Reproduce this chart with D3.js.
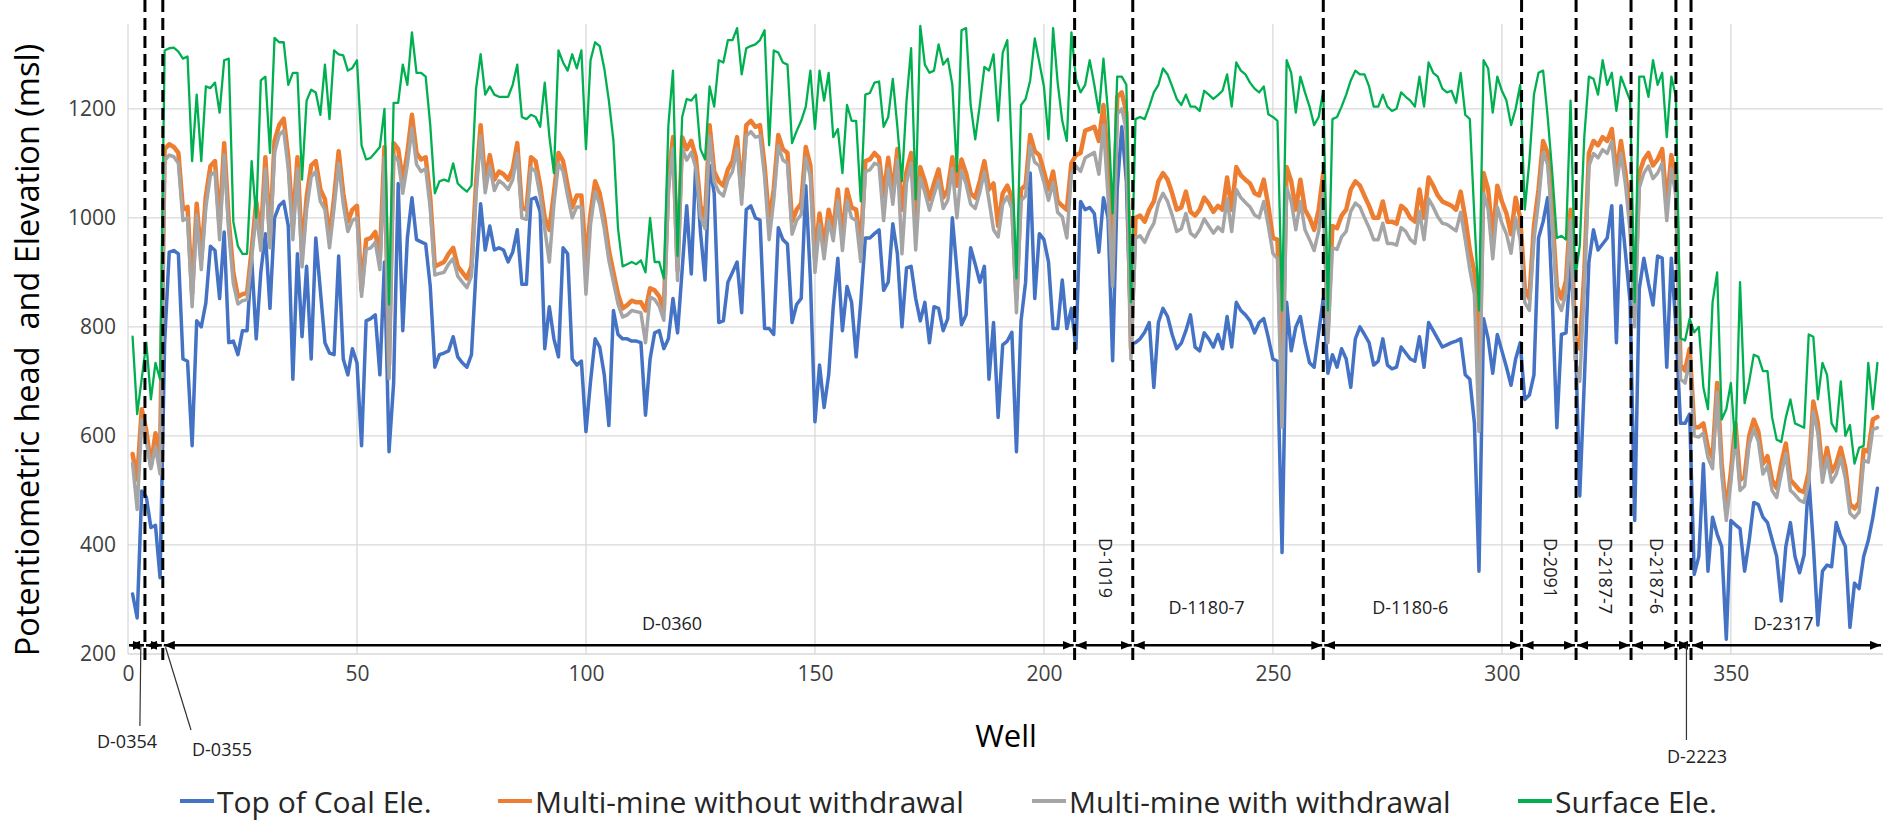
<!DOCTYPE html>
<html>
<head>
<meta charset="utf-8">
<script src="https://cdn.jsdelivr.net/npm/d3@7"></script>
<style>
  body { margin: 0; background: #fff; }
  svg { display: block; font-family: "Open Sans", "Noto Sans", sans-serif; }
  text { white-space: pre; }
</style>
</head>
<body>
<script>
// values per well (well 1 .. 382)
var topCoal = [
  310,266,499,488,432,436,340,771,937,940,
  934,741,737,582,811,800,844,948,940,852,
  974,771,774,749,793,793,926,778,900,971,
  834,1000,1022,1030,985,704,934,782,911,741,
  963,867,771,752,749,930,741,712,760,734,
  582,811,815,822,712,919,571,697,1063,793,
  963,1037,960,956,952,874,726,749,752,756,
  782,745,734,726,749,904,1026,941,985,941,
  945,941,919,937,978,878,878,1034,1037,1011,
  760,837,778,745,945,934,741,730,737,608,
  700,778,763,712,619,830,786,778,778,774,
  774,771,638,741,789,793,760,778,852,789,
  904,1022,897,1104,974,886,1096,1045,808,811,
  882,900,919,826,1015,1022,1000,996,797,797,
  786,982,960,952,808,841,852,1059,889,626,
  730,652,712,837,926,793,874,845,745,845,
  963,963,971,978,867,882,989,934,800,908,
  911,852,811,845,771,837,834,793,815,1000,
  904,804,822,945,915,882,911,704,808,634,
  767,774,790,571,811,882,1082,852,971,960,
  919,797,797,886,797,834,760,1030,1015,1019,
  1008,937,1037,1000,738,1052,1167,1067,771,771,
  778,790,808,689,808,834,819,786,760,770,
  793,822,763,756,789,778,763,786,760,819,
  763,845,830,822,811,789,808,815,780,741,
  737,386,845,756,800,819,771,734,726,789,
  852,715,749,726,760,741,689,778,800,786,
  771,730,737,778,730,723,726,763,752,741,
  737,782,726,808,793,778,763,767,771,774,
  778,712,704,623,352,815,778,715,786,756,
  726,693,741,771,667,675,712,963,993,1037,
  852,615,786,789,919,800,490,700,919,978,
  941,952,963,1022,771,1022,934,845,445,870,
  926,880,840,930,926,726,926,800,623,623,640,
  346,379,549,352,451,420,397,227,445,437,
  430,352,408,478,474,451,441,410,379,297,
  397,441,379,349,382,526,401,253,352,363,
  360,441,415,397,249,330,320,379,408,450,
  504
];

var noWithdrawal = [
  567,520,649,610,545,605,560,1126,1135,1130,
  1119,1015,1020,860,1026,925,1040,1095,1104,985,
  1137,995,900,855,860,862,941,1030,963,1111,
  963,1141,1170,1182,1111,985,1111,934,1037,1096,
  1104,1052,1034,963,1037,1122,1045,993,1015,1022,
  867,960,963,974,926,1130,730,1137,1126,1067,
  1119,1189,1119,1107,1111,1037,911,915,919,934,
  945,911,900,889,911,1063,1170,1067,1115,1070,
  1085,1080,1070,1089,1137,1019,1015,1111,1104,1059,
  1000,978,1045,1119,1104,1059,1019,1041,1041,919,
  1008,1067,1045,1000,941,900,860,834,840,848,
  845,845,830,871,867,856,830,1070,1148,904,
  1148,1126,1141,1111,1022,1000,1170,1085,1067,1059,
  1089,1104,1148,1045,1170,1178,1167,1170,1096,993,
  1052,1152,1126,1119,993,1015,1026,1130,1096,926,
  1008,948,1015,978,1052,963,1052,1019,1015,945,
  1104,1107,1119,1110,1040,1110,1045,1126,1015,1085,
  1119,1000,1093,1067,1034,1063,1089,1037,1052,1111,
  1059,1107,1082,1045,1037,1067,1104,1052,1063,985,
  1045,1059,1037,852,1052,1060,1152,1122,1115,1085,
  1052,1085,1030,1022,1015,1100,1115,1119,1160,1163,
  1167,1141,1207,1100,900,1222,1230,1193,760,1000,
  1004,993,1015,1030,1067,1082,1070,1045,1015,1019,
  1048,1011,1004,1015,1037,1026,1011,1022,1015,1074,
  1015,1093,1078,1070,1063,1045,1041,1070,1022,963,
  960,700,1093,1067,1015,1070,1015,1000,978,1015,
  1082,800,985,981,1004,1015,1052,1067,1059,1040,
  1022,1000,1000,1030,993,993,989,1022,1015,1000,
  993,1052,1000,1074,1059,1041,1030,1026,1022,1015,
  1048,1000,941,900,700,1082,1052,963,1059,1030,
  1008,970,1037,1000,870,852,985,1052,1141,1119,
  1008,874,852,885,1015,780,760,900,1119,1141,
  1133,1148,1141,1163,1082,1141,1082,1000,845,1082,
  1107,1119,1096,1107,1126,1022,1115,1067,730,720,760,
  616,616,623,578,560,697,549,460,534,623,
  519,526,600,630,608,549,563,519,504,549,
  586,519,510,500,497,534,663,623,534,578,
  534,549,578,541,475,467,478,575,571,630,
  635
];

var withWithdrawal = [
  550,465,630,590,540,580,530,1105,1115,1112,
  1100,995,1000,837,1005,905,1020,1078,1085,960,
  1115,975,880,842,848,850,925,1010,940,1090,
  945,1120,1152,1160,1090,960,1090,910,1015,1075,
  1085,1030,1015,945,1018,1100,1025,975,995,1000,
  856,942,945,955,905,1110,705,1115,1105,1045,
  1098,1165,1098,1085,1090,1018,895,898,900,915,
  925,893,882,872,893,1042,1150,1046,1095,1050,
  1068,1062,1052,1070,1118,1000,997,1092,1085,1040,
  980,919,1025,1100,1085,1040,1000,1020,1020,860,
  988,1048,1025,980,922,882,842,818,822,830,
  828,826,771,855,850,838,812,1050,1128,885,
  1128,1106,1120,1092,1002,980,1150,1066,1048,1040,
  1070,1085,1128,1025,1150,1158,1148,1150,1076,960,
  1032,1132,1106,1100,970,995,1006,1110,1076,900,
  988,925,995,958,1032,940,1032,1000,995,920,
  1085,1088,1100,1096,995,1090,1025,1106,934,1065,
  1100,941,1073,1047,1014,1043,1069,1017,1032,1091,
  1000,1087,1062,1025,1017,1047,1084,1032,978,965,
  1025,1039,1017,826,1032,1040,1132,1102,1095,1065,
  1032,1065,1010,1002,963,1080,1095,1085,1110,1115,
  1120,1080,1170,1040,874,1190,1200,1160,740,963,
  967,955,975,990,1027,1045,1030,1005,975,980,
  1008,972,965,978,998,985,972,983,975,1035,
  975,1052,1037,1028,1020,1005,1000,1030,985,935,
  925,616,1055,1030,978,1030,978,960,940,976,
  1045,771,945,942,965,975,1012,1027,1020,1000,
  982,960,960,990,953,953,950,982,975,960,
  953,1012,960,1035,1020,1002,990,988,982,976,
  1010,960,905,860,608,1045,1015,925,1020,990,
  970,935,1000,960,845,830,960,1030,1120,1098,
  985,850,830,862,995,740,700,870,1095,1118,
  1110,1125,1118,1140,1060,1118,1060,975,800,1055,
  1082,1095,1072,1082,1100,995,1090,1040,704,697,740,
  600,598,605,560,540,680,530,445,515,605,
  500,508,585,612,590,530,545,500,487,530,
  568,500,492,482,478,515,645,605,515,560,
  515,530,560,522,458,450,460,555,552,612,
  615
];

var surface = [
  782,640,705,771,667,734,704,1307,1311,1312,
  1305,1292,1296,1104,1226,1104,1241,1238,1248,1193,
  1289,1292,993,948,934,934,1104,1000,1252,1259,
  1119,1330,1322,1322,1244,1266,1266,1070,1215,1235,
  1230,1189,1281,1181,1307,1300,1298,1270,1275,1289,
  1133,1107,1110,1120,1130,1200,841,1211,1211,1281,
  1244,1340,1266,1266,1259,1170,1045,1067,1070,1067,
  1100,1063,1055,1048,1059,1237,1300,1226,1241,1226,
  1222,1222,1222,1244,1281,1185,1181,1189,1185,1167,
  1248,1150,1082,1307,1285,1270,1300,1274,1307,1126,
  1289,1322,1315,1274,1215,1141,980,911,915,919,
  915,922,900,1000,919,919,889,1170,1270,930,
  1185,1218,1215,1226,1126,1107,1241,1204,1289,1285,
  1326,1326,1348,1263,1311,1315,1318,1326,1344,1133,
  1307,1303,1285,1281,1137,1159,1178,1204,1270,1163,
  1270,1215,1266,1148,1163,1082,1207,1178,1178,1030,
  1226,1229,1248,1250,1167,1185,1255,1167,1067,1215,
  1311,1034,1352,1281,1266,1270,1318,1281,1292,1244,
  1085,1344,1348,1207,1144,1207,1277,1270,1300,1178,
  1303,1326,1119,889,1207,1218,1252,1329,1285,1241,
  1144,1348,1248,1178,1141,1340,1255,1230,1244,1289,
  1244,1193,1292,1193,1008,1259,1259,1244,845,1181,
  1185,1181,1204,1230,1244,1274,1263,1241,1218,1207,
  1226,1204,1204,1196,1233,1226,1218,1225,1233,1263,
  1204,1285,1270,1263,1248,1237,1230,1241,1190,1185,
  1178,830,1289,1266,1193,1259,1230,1204,1170,1185,
  1233,830,1181,1185,1204,1226,1252,1270,1263,1263,
  1241,1204,1204,1226,1204,1196,1200,1230,1222,1215,
  1204,1259,1204,1285,1266,1259,1237,1230,1233,1211,
  1266,1189,1181,1000,830,1289,1274,1193,1259,1233,
  1215,1170,1200,1244,1015,1104,1226,1266,1270,1185,
  1082,963,967,960,1215,889,948,1150,1259,1255,
  1226,1289,1244,1266,1196,1259,1237,1215,845,1259,
  1259,1222,1289,1244,1266,1148,1259,1222,779,775,815,
  790,800,689,649,845,900,630,649,697,578,
  882,660,700,749,745,719,719,634,593,589,
  634,667,623,619,615,786,782,667,734,712,
  623,608,700,600,620,549,578,582,734,649,
  734
];

var seriesNames = ["Top of Coal Ele.", "Multi-mine without withdrawal", "Multi-mine with withdrawal", "Surface Ele."];
var seriesColors = ["#4472C4", "#ED7D31", "#A5A5A5", "#00B050"];
var seriesWidths = [3.5, 4.5, 3.5, 2.3];

var wellTicks = [0, 50, 100, 150, 200, 250, 300, 350];
var elevTicks = [200, 400, 600, 800, 1000, 1200];

// well numbers where the dashed separators sit
var boundaries = [3.7, 7.6, 206.7, 219.4, 261, 304.3, 316.2, 328.2, 338, 341.3];
var segNames = ["D-0354", "D-0355", "D-0360", "D-1019", "D-1180-7", "D-1180-6",
                "D-2091", "D-2187-7", "D-2187-6", "D-2223", "D-2317"];

var W = 1883, H = 829;
var x = d3.scaleLinear().domain([0, 383]).range([128, 1882]);
var y = d3.scaleLinear().domain([200, 1350]).range([654, 27]);

var svg = d3.select("body").append("svg")
    .attr("width", W).attr("height", H)
    .attr("viewBox", [0, 0, W, H]);

svg.append("rect").attr("width", W).attr("height", H).attr("fill", "#fff");

// grid
svg.append("g").selectAll("line").data(elevTicks).join("line")
    .attr("x1", x(0)).attr("x2", W)
    .attr("y1", d => y(d)).attr("y2", d => y(d))
    .attr("stroke", "#d9d9d9").attr("stroke-width", 1.3);
svg.append("g").selectAll("line").data(wellTicks).join("line")
    .attr("x1", d => x(d)).attr("x2", d => x(d))
    .attr("y1", y(1350) - 3).attr("y2", y(200))
    .attr("stroke", "#d9d9d9").attr("stroke-width", 1.3);

// y axis labels
svg.append("g")
    .attr("transform", `translate(${x(0)},0)`)
    .call(d3.axisLeft(y).tickValues(elevTicks).tickFormat(d3.format("d")).tickSize(0).tickPadding(12))
    .call(g => g.select(".domain").remove())
    .call(g => g.selectAll("text")
        .attr("font-family", '"Open Sans", sans-serif')
        .attr("font-size", 21).attr("fill", "#404040"));

// x axis labels
svg.append("g")
    .attr("transform", `translate(0,${y(200)})`)
    .call(d3.axisBottom(x).tickValues(wellTicks).tickFormat(d3.format("d")).tickSize(0).tickPadding(12))
    .call(g => g.select(".domain").remove())
    .call(g => g.selectAll("text")
        .attr("font-family", '"Open Sans", sans-serif')
        .attr("font-size", 21).attr("fill", "#404040"));

// series
var allSeries = [topCoal, noWithdrawal, withWithdrawal, surface];
var line = d3.line()
    .x((d, i) => x(i + 1))
    .y(d => y(d));

allSeries.forEach(function(s, k) {
    svg.append("path")
        .datum(s)
        .attr("fill", "none")
        .attr("stroke", seriesColors[k])
        .attr("stroke-width", seriesWidths[k])
        .attr("stroke-linejoin", "round")
        .attr("stroke-linecap", "round")
        .attr("d", line);
});

// dashed well separators
svg.append("g").selectAll("line").data(boundaries).join("line")
    .attr("x1", d => x(d)).attr("x2", d => x(d))
    .attr("y1", 0).attr("y2", 662)
    .attr("stroke", "#000").attr("stroke-width", 3)
    .attr("stroke-dasharray", "12,6");

// double arrows under each well range
svg.append("defs").append("marker")
    .attr("id", "ah")
    .attr("viewBox", "0 0 10 8")
    .attr("refX", 10).attr("refY", 4)
    .attr("markerUnits", "userSpaceOnUse")
    .attr("markerWidth", 11).attr("markerHeight", 9)
    .attr("orient", "auto-start-reverse")
  .append("path").attr("d", "M0,0L10,4L0,8Z").attr("fill", "#000");

var edges = [0].concat(boundaries, [383]);
var arrowY = y(216);
d3.range(edges.length - 1).forEach(function(i) {
    svg.append("line")
        .attr("x1", x(edges[i]) + 1).attr("x2", x(edges[i + 1]) - 1)
        .attr("y1", arrowY).attr("y2", arrowY)
        .attr("stroke", "#000").attr("stroke-width", 2.6)
        .attr("marker-start", "url(#ah)")
        .attr("marker-end", "url(#ah)");
});

// range labels
var labelFont = 18;
function label(name, px, py) {
    svg.append("text").attr("x", px).attr("y", py)
        .attr("text-anchor", "middle").attr("font-size", labelFont)
        .attr("fill", "#222").text(name);
}
function upright(name, well) {
    svg.append("text")
        .attr("transform", `translate(${x(well)},538) rotate(90)`)
        .attr("text-anchor", "start").attr("dominant-baseline", "middle")
        .attr("font-size", labelFont).attr("fill", "#222").text(name);
}
label(segNames[2], x(118.8), 630);
upright(segNames[3], 213.1);
label(segNames[4], x(235.5), 614);
label(segNames[5], x(280), 614);
upright(segNames[6], 310.3);
upright(segNames[7], 322.3);
upright(segNames[8], 333.3);
label(segNames[10], x(361.5), 630);

// names below the axis with leader lines
function leader(x1, y1, x2, y2) {
    svg.append("line").attr("x1", x1).attr("y1", y1).attr("x2", x2).attr("y2", y2)
        .attr("stroke", "#333").attr("stroke-width", 1.2);
}
leader(x(2.8), arrowY, x(2.6), 726);
label(segNames[0], 127, 748);
leader(x(8.2), arrowY + 2, 191, 730);
label(segNames[1], 222, 756);
leader(x(340.3), arrowY, x(340.3), 740);
label(segNames[9], 1697, 763);

// axis titles
svg.append("text")
    .attr("transform", `translate(39,350) rotate(-90)`)
    .attr("text-anchor", "middle")
    .attr("font-size", 32.5).attr("fill", "#000")
    .text("Potentiometric head  and Elevation (msl)");

svg.append("text")
    .attr("x", 1006).attr("y", 747)
    .attr("text-anchor", "middle")
    .attr("font-size", 31).attr("fill", "#000")
    .text("Well");

// legend
var legendX = [180, 498, 1032, 1518];
var legendY = 801;
seriesNames.forEach(function(name, k) {
    var g = svg.append("g").attr("transform", `translate(${legendX[k]},${legendY})`);
    g.append("line").attr("x1", 0).attr("x2", 34)
        .attr("stroke", seriesColors[k]).attr("stroke-width", 4);
    g.append("text").attr("x", 37).attr("y", 0)
        .attr("dominant-baseline", "central")
        .attr("font-size", 30).attr("fill", "#262626")
        .text(name);
});
</script>
</body>
</html>
